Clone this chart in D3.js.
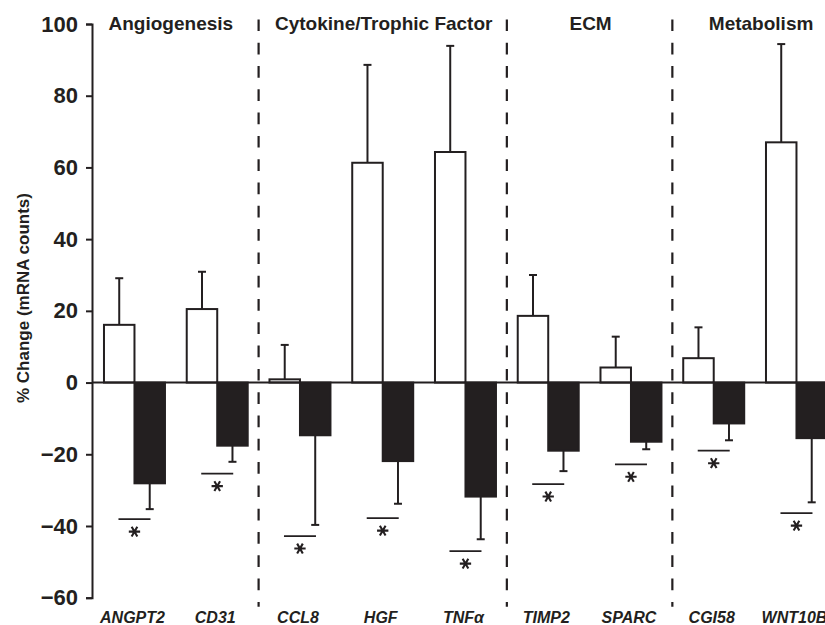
<!DOCTYPE html>
<html>
<head>
<meta charset="utf-8">
<script src="https://cdn.jsdelivr.net/npm/d3@7"></script>
<style>
  body { margin: 0; background: #fff; }
  text { font-family: "Liberation Sans", Arial, sans-serif; fill: #231f20; }
</style>
</head>
<body>
<div id="chart"></div>
<script>
// Gene names along the x axis
var genes = ["ANGPT2", "CD31", "CCL8", "HGF", "TNF\u03b1", "TIMP2", "SPARC", "CGI58", "WNT10B"];

// Open bars (% change) and their error
var openValues = [16.1, 20.5, 0.9, 61.3, 64.3, 18.6, 4.2, 6.8, 67.0];
var openErrors = [13.0, 10.4, 9.6, 27.3, 29.6, 11.4, 8.6, 8.6, 27.4];

// Filled bars (% change) and their error
var filledValues = [-28.1, -17.6, -14.7, -21.9, -31.8, -19.0, -16.5, -11.4, -15.5];
var filledErrors = [7.2, 4.5, 25.0, 11.9, 11.9, 5.7, 2.1, 4.7, 17.9];

// Level of the significance bar under each pair
var sigLevels = [-38.1, -25.4, -42.8, -37.8, -47.0, -28.3, -22.8, -19.0, -36.4];

// Section headings and the first/last gene of each section
var sections = ["Angiogenesis", "Cytokine/Trophic Factor", "ECM", "Metabolism"];
var sectionFirst = ["ANGPT2", "CCL8", "TIMP2", "CGI58"];
var sectionLast = ["CD31", "TNF\u03b1", "SPARC", "WNT10B"];

var yTicks = [100, 80, 60, 40, 20, 0, -20, -40, -60];

var svgWidth = 825;
var svgHeight = 625;
var axisX = 92;

var svg = d3.select("#chart")
    .append("svg")
    .attr("width", svgWidth)
    .attr("height", svgHeight);

var yScale = d3.scaleLinear()
    .domain([-60, 100])
    .range([597.7, 24]);

var xScale = d3.scaleBand()
    .domain(genes)
    .range([93.1, 837.85])
    .paddingInner(0.263)
    .paddingOuter(0.1315);

var xSub = d3.scaleBand()
    .domain(["open", "filled"])
    .range([0, xScale.bandwidth()]);

var halfGap = xScale.step() * xScale.paddingInner() / 2;

// dashed section separators
svg.selectAll("line.sep")
    .data(sectionFirst.slice(1))
    .enter()
    .append("line")
    .attr("class", "sep")
    .attr("x1", d => xScale(d) - halfGap)
    .attr("x2", d => xScale(d) - halfGap)
    .attr("y1", 19.4)
    .attr("y2", 606.7)
    .attr("stroke", "#231f20")
    .attr("stroke-width", 2.2)
    .attr("stroke-dasharray", "11.7,11.6");

// section headings
var labelShift = [-5, 1, 1, 6];
svg.selectAll("text.section")
    .data(sections)
    .enter()
    .append("text")
    .attr("class", "section")
    .attr("x", (d, i) => (xScale(sectionFirst[i]) + xScale(sectionLast[i]) + xScale.bandwidth()) / 2 + labelShift[i])
    .attr("y", 30)
    .attr("text-anchor", "middle")
    .attr("font-size", "19px")
    .attr("font-weight", "bold")
    .text(d => d);

// error bars (drawn first so bars sit on top)
var errGroup = svg.append("g")
    .attr("stroke", "#231f20")
    .attr("stroke-width", 2);

genes.forEach(function(g, i) {
    var cxOpen = xScale(g) + xSub("open") + xSub.bandwidth() / 2;
    var cxFilled = xScale(g) + xSub("filled") + xSub.bandwidth() / 2;
    var topOpen = openValues[i] + openErrors[i];
    var botFilled = filledValues[i] - filledErrors[i];

    errGroup.append("line")
        .attr("x1", cxOpen).attr("x2", cxOpen)
        .attr("y1", yScale(openValues[i])).attr("y2", yScale(topOpen));
    errGroup.append("line")
        .attr("x1", cxOpen - 4).attr("x2", cxOpen + 4)
        .attr("y1", yScale(topOpen)).attr("y2", yScale(topOpen));

    errGroup.append("line")
        .attr("x1", cxFilled).attr("x2", cxFilled)
        .attr("y1", yScale(filledValues[i])).attr("y2", yScale(botFilled));
    errGroup.append("line")
        .attr("x1", cxFilled - 4).attr("x2", cxFilled + 4)
        .attr("y1", yScale(botFilled)).attr("y2", yScale(botFilled));
});

// open bars
svg.selectAll("rect.open")
    .data(openValues)
    .enter()
    .append("rect")
    .attr("class", "open")
    .attr("x", (d, i) => xScale(genes[i]) + xSub("open"))
    .attr("y", d => yScale(Math.max(d, 0)))
    .attr("width", xSub.bandwidth())
    .attr("height", d => Math.abs(yScale(d) - yScale(0)))
    .attr("fill", "#fff")
    .attr("stroke", "#231f20")
    .attr("stroke-width", 2);

// filled bars
svg.selectAll("rect.filled")
    .data(filledValues)
    .enter()
    .append("rect")
    .attr("class", "filled")
    .attr("x", (d, i) => xScale(genes[i]) + xSub("filled"))
    .attr("y", d => yScale(Math.max(d, 0)))
    .attr("width", xSub.bandwidth())
    .attr("height", d => Math.abs(yScale(d) - yScale(0)))
    .attr("fill", "#231f20")
    .attr("stroke", "#231f20")
    .attr("stroke-width", 2);

// zero line
svg.append("line")
    .attr("x1", axisX)
    .attr("x2", svgWidth)
    .attr("y1", yScale(0))
    .attr("y2", yScale(0))
    .attr("stroke", "#231f20")
    .attr("stroke-width", 2);

// significance bars and asterisks
svg.selectAll("line.sig")
    .data(sigLevels)
    .enter()
    .append("line")
    .attr("class", "sig")
    .attr("x1", (d, i) => xScale(genes[i]) + xSub("filled") - 16)
    .attr("x2", (d, i) => xScale(genes[i]) + xSub("filled") + 16)
    .attr("y1", d => yScale(d))
    .attr("y2", d => yScale(d))
    .attr("stroke", "#231f20")
    .attr("stroke-width", 1.8);

var star = d3.symbol().type(d3.symbolAsterisk).size(90);
svg.selectAll("path.star")
    .data(sigLevels)
    .enter()
    .append("path")
    .attr("class", "star")
    .attr("d", star)
    .attr("transform", (d, i) => `translate(${xScale(genes[i]) + xSub("filled")}, ${yScale(d) + 12.5}) rotate(90)`)
    .attr("fill", "none")
    .attr("stroke", "#231f20")
    .attr("stroke-width", 2.1);

// y axis
var yAxis = d3.axisLeft(yScale)
    .tickValues(yTicks)
    .tickSize(6)
    .tickPadding(8);

var yAxisG = svg.append("g")
    .attr("transform", `translate(${axisX}, 0)`)
    .call(yAxis);

yAxisG.select(".domain")
    .attr("stroke", "#231f20")
    .attr("stroke-width", 2);
yAxisG.selectAll(".tick line")
    .attr("stroke", "#231f20")
    .attr("stroke-width", 2);
yAxisG.selectAll(".tick text")
    .attr("font-family", "Liberation Sans, Arial, sans-serif")
    .attr("font-size", "22px")
    .attr("font-weight", "bold")
    .attr("fill", "#231f20");

// gene labels
svg.selectAll("text.gene")
    .data(genes)
    .enter()
    .append("text")
    .attr("class", "gene")
    .attr("x", d => xScale(d) + xScale.bandwidth() / 2 - 2)
    .attr("y", 623)
    .attr("text-anchor", "middle")
    .attr("font-size", "16px")
    .attr("font-weight", "bold")
    .attr("font-style", "italic")
    .text(d => d);

// y axis title
svg.append("text")
    .attr("transform", "rotate(-90)")
    .attr("x", -298)
    .attr("y", 29)
    .attr("text-anchor", "middle")
    .attr("font-size", "17px")
    .attr("font-weight", "bold")
    .text("% Change (mRNA counts)");
</script>
</body>
</html>
